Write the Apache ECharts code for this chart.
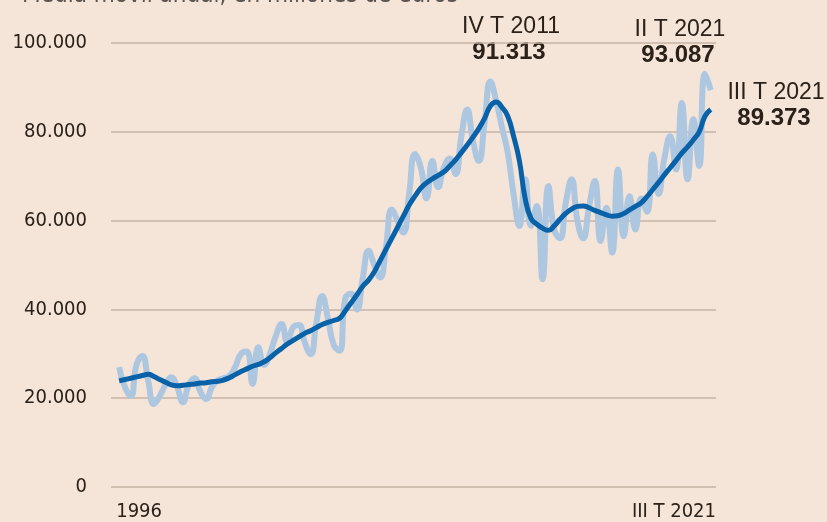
<!DOCTYPE html>
<html>
<head>
  <meta charset="utf-8">
  <title>Media móvil anual</title>
  <script src="https://cdn.jsdelivr.net/npm/echarts@6.0.0/dist/echarts.min.js"></script>
  <style>
    body { margin: 0; padding: 0; background: #f5e4d8; }
    #main { width: 827px; height: 522px; }
  </style>
</head>
<body>
  <div id="main"></div>
  <script>
    // trimestres 1996 T1 .. 2021 T3 (indice 0..102)
    var xLabels = ['1996', 'III T 2021'];
    var xLabelPos = [-0.5, 102.9];
    var yTicks = [0, 20000, 40000, 60000, 80000, 100000];

    // valor trimestral (linea clara), millones de euros
    var trimestral = [
      27000, 22500, 20500, 27500, 29500, 24000, 18700, 20500, 23000, 24700,
      22500, 19100, 23000, 24500, 21500, 19800, 22500, 24000, 24500, 25000,
      27000, 30000, 30500, 23200, 31500, 27500, 30000, 34000, 36700, 32500,
      36000, 36500, 32500, 29900, 37000, 43000, 38000, 32000, 30700, 42500,
      43500, 40000, 47000, 53200, 50000, 47200, 54000, 62500, 60000, 57300,
      66000, 75000, 72000, 65000, 73500, 67500, 72000, 74000, 70500, 79000,
      85000, 78000, 73400, 82000, 91313, 87000, 81000, 75300, 66000, 58800,
      69300, 58800, 63300, 46800, 67800, 58000, 56000, 64000, 69300, 60000,
      56000, 63000, 68900, 55400, 62900, 52800, 71500, 56500, 65500, 58000,
      65000, 62000, 74900, 66000, 74000, 79000, 71500, 86500, 69300, 82800,
      72300, 93087, 89373
    ];

    // media movil anual (linea oscura)
    var mediaMovil = [
      23900, 24200, 24500, 24800, 25100, 25400, 24900, 24200, 23600, 23000,
      22800, 22900, 23100, 23200, 23400, 23500, 23700, 23800, 24100, 24600,
      25300, 26000, 26600, 27200, 27600, 28200, 29100, 30200, 31200, 32200,
      33000, 33800, 34600, 35200, 35900, 36600, 37100, 37500, 38000, 39700,
      41500, 43300, 45200, 46600, 48500, 51000, 53500, 56000, 58500, 61000,
      63500, 65500, 67300, 68500, 69400, 70200, 71000, 72300, 73700, 75300,
      77000, 78800, 80700, 83000, 85800, 86700, 85500, 83500, 79000, 73500,
      65000, 60500, 59200, 58300, 57800, 58800, 60300, 61600, 62600, 63200,
      63300, 62900, 62300, 61800, 61300, 61000, 61100, 61600, 62400, 63200,
      64000, 65400, 67000, 68600, 70300, 71900, 73500, 75200, 76600, 78200,
      80000, 83500, 85000
    ];

    var notas = [
      { t: 'IV T 2011', v: 91313, x: 511, y: 15 },
      { t: 'II T 2021', v: 93087, x: 680, y: 18 },
      { t: 'III T 2021', v: 89373, x: 776, y: 81 }
    ];

    function fmt(n) {
      return String(n).replace(/\B(?=(\d{3})+(?!\d))/g, '.');
    }

    var chart = echarts.init(document.getElementById('main'));

    var graphics = [{
      type: 'text', left: 22, top: -16,
      style: { text: 'Media móvil anual, en millones de euros', fill: '#5e5650',
        font: '24px "DejaVu Sans Condensed", sans-serif' }
    }];
    notas.forEach(function (n) {
      graphics.push({
        type: 'text', x: n.x, y: n.y,
        style: { text: n.t, fill: '#2b2118', align: 'center', verticalAlign: 'top',
          font: '23px "Liberation Sans", sans-serif' }
      });
      graphics.push({
        type: 'text', x: n.x - 2, y: n.y + 25,
        style: { text: fmt(n.v), fill: '#2b2118', align: 'center', verticalAlign: 'top',
          font: 'bold 24px "Liberation Sans", sans-serif' }
      });
    });

    var option = {
      backgroundColor: '#f5e4d8',
      animation: false,
      grid: { left: 111, right: 111, top: 43, bottom: 34 },
      xAxis: {
        type: 'value',
        min: -1.4,
        max: 102.9,
        splitLine: { show: false },
        axisLine: { show: false },
        axisTick: { show: false },
        axisLabel: {
          customValues: xLabelPos,
          formatter: function (v) { return xLabels[xLabelPos.indexOf(v)]; },
          alignMinLabel: 'left',
          alignMaxLabel: 'right',
          margin: 15,
          color: '#2b2118',
          fontSize: 20,
          fontFamily: '"DejaVu Sans Condensed", sans-serif'
        }
      },
      yAxis: {
        type: 'value',
        min: 0,
        max: 100000,
        interval: 20000,
        axisLine: { show: false },
        axisTick: { show: false },
        splitLine: { lineStyle: { color: '#c6b4a7', width: 1.5 } },
        axisLabel: {
          margin: 24,
          color: '#2b2118',
          fontSize: 20,
          padding: [0, 0, 4, 0],
          fontFamily: '"DejaVu Sans Condensed", sans-serif',
          formatter: function (v) { return fmt(v); }
        }
      },
      series: [{
        type: 'line',
        data: trimestral.map(function (v, i) { return [i, v]; }),
        smooth: 0.5,
        symbol: 'none',
        lineStyle: { color: '#aec7e1', width: 6 },
        z: 2
      }, {
        type: 'line',
        data: mediaMovil.map(function (v, i) { return [i, v]; }),
        smooth: 0.5,
        symbol: 'none',
        lineStyle: { color: '#0961a7', width: 5 },
        z: 3
      }],
      graphic: graphics
    };
    chart.setOption(option);
  </script>
</body>
</html>
